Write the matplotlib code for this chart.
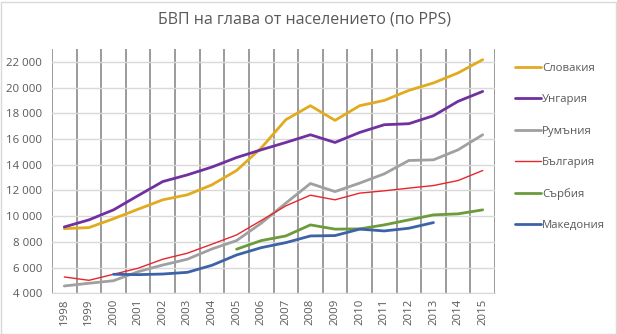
import matplotlib
matplotlib.use("Agg")
from matplotlib import pyplot as plt
from matplotlib.patches import Rectangle

plt.rcParams["font.family"] = ["Open Sans", "DejaVu Sans"]

years = [str(y) for y in range(1998, 2016)]

slovakia = [9030, 9110, 9800, 10540, 11270, 11660, 12440, 13550, 15300, 17500,
            18590, 17450, 18590, 19000, 19780, 20360, 21140, 22170]
hungary = [9160, 9710, 10490, 11600, 12690, 13210, 13820, 14560, 15160, 15730,
           16330, 15730, 16510, 17110, 17190, 17810, 18930, 19700]
romania = [4570, 4780, 4980, 5680, 6200, 6650, 7450, 8100, 9450, 11010,
           12540, 11910, 12570, 13290, 14330, 14380, 15160, 16330]
bulgaria = [5270, 5010, 5480, 5950, 6650, 7120, 7820, 8540, 9660, 10800,
            11630, 11270, 11790, 11970, 12180, 12380, 12770, 13550]
serbia = [None] * 7 + [7430, 8100, 8460, 9320, 8990, 9010, 9320, 9710, 10100,
                       10180, 10490]
macedonia = [None] * 2 + [5480, 5450, 5500, 5630, 6180, 6980, 7550, 7940,
                          8460, 8490, 8990, 8850, 9060, 9500, None, None]

series = [
    ("Словакия", slovakia, "#e2ab1e", 2.0),
    ("Унгария", hungary, "#7030a0", 2.0),
    ("Румъния", romania, "#a0a0a0", 2.0),
    ("България", bulgaria, "#e8262a", 1.0),
    ("Сърбия", serbia, "#6b9b3a", 2.0),
    ("Македония", macedonia, "#3c63a8", 2.0),
]

text_color = "#595959"

fig = plt.figure(figsize=(6.17, 3.34), dpi=100)
ax = fig.add_axes([52 / 617, 40.7 / 334, 443 / 617, 244.3 / 334])

x = list(range(len(years)))
for name, vals, color, lw in series:
    xs = [i for i, v in zip(x, vals) if v is not None]
    ys = [v for v in vals if v is not None]
    ax.plot(xs, ys, color=color, lw=lw, label=name, solid_capstyle="round")

ax.set_xlim(-0.5, len(years) - 0.5)
ax.set_ylim(4000, 23000)
ax.set_yticks(range(4000, 22001, 2000))
ax.set_yticklabels([f"{v:,}".replace(",", " ") for v in range(4000, 22001, 2000)])
ax.set_xticks(x)
ax.set_xticklabels(years, rotation=90)
ax.set_xticks([i - 0.5 for i in range(len(years) + 1)], minor=True)

ax.grid(axis="y", which="major", color="#d9d9d9", lw=1)
ax.grid(axis="x", which="minor", color="#808080", lw=1.1)
ax.grid(axis="x", which="major", visible=False)
ax.set_axisbelow(True)
ax.tick_params(which="both", length=0, labelsize=8.2, labelcolor=text_color)
ax.tick_params(axis="y", pad=7)
ax.tick_params(axis="x", pad=4)
for side in ["top", "right", "left"]:
    ax.spines[side].set_visible(False)
ax.spines["bottom"].set_color("#d9d9d9")

fig.text(0.493, 1 - 20 / 334, "БВП на глава от населението (по PPS)",
         ha="center", va="center", fontsize=11.5, color=text_color)

fig.legend(loc="upper left", bbox_to_anchor=(515 / 617, 1 - 63 / 334),
           frameon=False, fontsize=8.2, labelcolor=text_color,
           handlelength=2.25, handletextpad=0.15, labelspacing=1.78,
           borderpad=0, borderaxespad=0)

fig.patches.append(Rectangle((0.5 / 617, 0.5 / 334), 615.5 / 617, 332 / 334,
                             transform=fig.transFigure, fill=False,
                             edgecolor="#d9d9d9", lw=1))

fig.savefig("out.png", dpi=100)
